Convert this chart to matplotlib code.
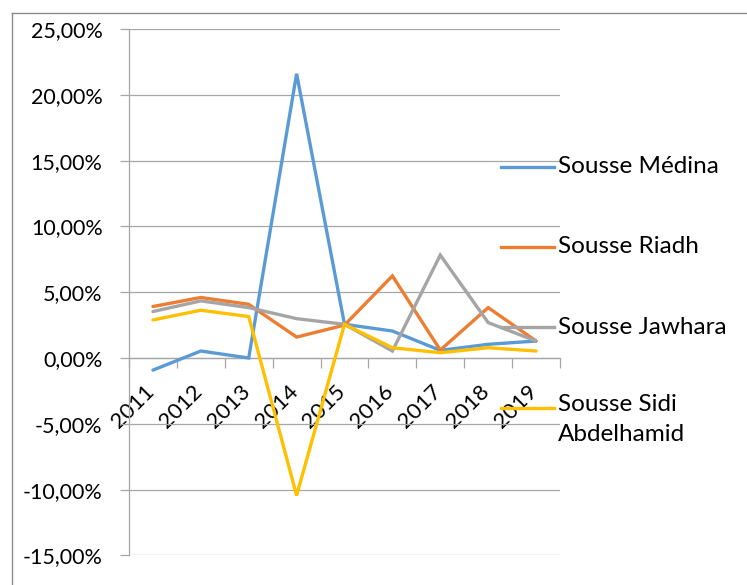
import matplotlib
matplotlib.use("Agg")
import matplotlib.pyplot as plt
from matplotlib.lines import Line2D
from matplotlib.ticker import FuncFormatter, FixedLocator
import matplotlib.transforms as mtransforms

plt.rcParams['font.family'] = ['Lato', 'DejaVu Sans']

years = ['2011', '2012', '2013', '2014', '2015', '2016', '2017', '2018', '2019']
medina = [-0.92, 0.53, 0.0, 21.6, 2.56, 2.05, 0.58, 1.04, 1.29]
riadh = [3.91, 4.60, 4.08, 1.59, 2.50, 6.24, 0.60, 3.83, 1.29]
jawhara = [3.53, 4.34, 3.83, 2.99, 2.56, 0.53, 7.82, 2.69, 1.29]
sidi = [2.89, 3.63, 3.15, -10.45, 2.56, 0.78, 0.40, 0.78, 0.53]

series_names = ['Sousse Médina', 'Sousse Riadh', 'Sousse Jawhara', 'Sousse Sidi\nAbdelhamid']
series_values = [medina, riadh, jawhara, sidi]
colors = ['#5B9BD5', '#ED7D31', '#A5A5A5', '#FFC000']

W, H = 747, 585
fig = plt.figure(figsize=(W / 100, H / 100), dpi=100)
ax = fig.add_axes([129 / W, 1 - 555.4 / H, (560 - 129) / W, (555.4 - 29) / H])

x = list(range(len(years)))
for vals, c in zip(series_values, colors):
    ax.plot(x, [v / 100 for v in vals], color=c, lw=2.4, solid_capstyle='round',
            solid_joinstyle='miter', zorder=3)

ax.set_xlim(-0.5, len(years) - 0.5)
ax.set_ylim(-0.15, 0.25)
ax.set_yticks([-0.15, -0.10, -0.05, 0, 0.05, 0.10, 0.15, 0.20, 0.25])
ax.yaxis.set_major_formatter(FuncFormatter(lambda v, p: f"{v*100:.2f}%".replace('.', ',')))
ax.grid(axis='y', color='#A6A6A6', lw=0.9, zorder=0)

grid_gray = '#A6A6A6'
for s in ['top', 'right']:
    ax.spines[s].set_visible(False)
ax.spines['left'].set_color(grid_gray)
ax.spines['left'].set_linewidth(0.9)
ax.spines['bottom'].set_position(('data', 0))
ax.spines['bottom'].set_color(grid_gray)
ax.spines['bottom'].set_linewidth(0.9)

ax.tick_params(axis='y', length=6.5, width=0.9, color=grid_gray, labelsize=15.5,
               labelcolor='#000000', pad=12.5)
ax.set_xticks(x)
ax.set_xticklabels(years)
ax.xaxis.set_minor_locator(FixedLocator([i + 0.5 for i in range(-1, len(years))]))
ax.tick_params(axis='x', which='major', length=0, labelsize=16, pad=17)
ax.tick_params(axis='x', which='minor', length=7, width=0.9, color=grid_gray)
offset = mtransforms.ScaledTranslation(-9 / 100, 0, fig.dpi_scale_trans)
for lab in ax.get_xticklabels():
    lab.set_rotation(45)
    lab.set_ha('right')
    lab.set_rotation_mode('anchor')
    lab.set_transform(lab.get_transform() + offset)

# legend (manual, right side)
leg_y0 = 166.5
leg_dy = 80.4
for i, (name, c) in enumerate(zip(series_names, colors)):
    yy = 1 - (leg_y0 + i * leg_dy) / H
    fig.add_artist(Line2D([501 / W, 554 / W], [yy, yy], color=c, lw=2.4,
                          transform=fig.transFigure, zorder=5))
    multi = '\n' in name
    fig.text(558 / W, yy, name, fontsize=17.5, va='top' if multi else 'center',
             ha='left', linespacing=1.5,
             transform=fig.transFigure + mtransforms.ScaledTranslation(0, 0.135 if multi else 0, fig.dpi_scale_trans))

# outer chart border
border = '#8C8C8C'
fig.add_artist(Line2D([12 / W, 1], [1 - 13 / H, 1 - 13 / H], color=border, lw=1,
                      transform=fig.transFigure))
fig.add_artist(Line2D([12 / W, 12 / W], [0, 1 - 13 / H], color=border, lw=1,
                      transform=fig.transFigure))

fig.savefig('out.png', dpi=100)
